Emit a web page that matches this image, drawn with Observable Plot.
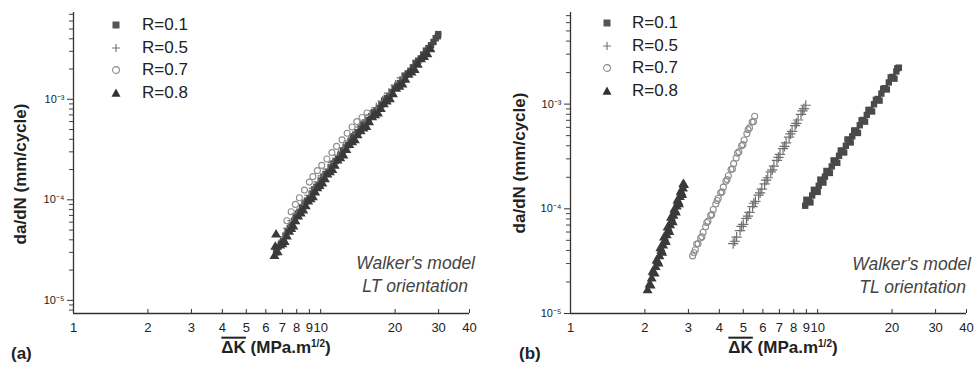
<!DOCTYPE html>
<html>
<head>
<meta charset="utf-8">
<script src="https://cdn.jsdelivr.net/npm/d3@7"></script>
<script src="https://cdn.jsdelivr.net/npm/@observablehq/plot@0.6"></script>
<style>
  body { margin: 0; background: #fff; }
  #fig { position: relative; width: 974px; height: 371px; overflow: hidden;
         font-family: "Liberation Sans", Arial, sans-serif; color: #222; }
  .panel { position: absolute; top: 0; }
  .ylab { position: absolute; font-weight: bold; font-size: 17px; white-space: nowrap;
          transform: translate(-50%, -50%) rotate(-90deg); }
  .xlab { position: absolute; font-weight: bold; font-size: 17px; white-space: nowrap;
          transform: translate(-50%, -50%); }
  .xlab .bar { text-decoration: overline; text-decoration-thickness: 2px; }
  .xlab sup { font-size: 10px; }
  .tag { position: absolute; font-weight: bold; font-size: 17px; transform: translate(0, -50%); }
  .note { position: absolute; font-style: italic; font-size: 17.5px; color: #444; white-space: nowrap;
          transform: translate(-100%, -50%); }
  .leg { position: absolute; font-size: 17px; transform: translate(0, -50%); white-space: nowrap; }
  .legsym { position: absolute; transform: translate(-50%, -50%); }
</style>
</head>
<body>
<div id="fig"></div>
<script>
// Fatigue crack growth rate da/dN versus effective ΔK (Walker's model), four load ratios.
const seriesNames = ["R=0.1", "R=0.5", "R=0.7", "R=0.8"];

// ---- LT orientation: [ΔK (MPa.m^1/2), da/dN (mm/cycle)] ----
const lt_R01 = [[6.6,3.0e-5],[6.9,3.65e-5],[7.2,4.4e-5],[7.5,5.25e-5],[7.8,6.2e-5],[8.1,7.3e-5],[8.4,8.3e-5],
  [8.8,9.8e-5],[9.2,1.15e-4],[9.6,1.34e-4],[10.0,1.55e-4],[10.5,1.81e-4],[11.0,2.1e-4],[11.5,2.43e-4],
  [12.0,2.81e-4],[12.6,3.32e-4],[13.2,3.85e-4],[13.8,4.45e-4],[14.5,5.15e-4],[15.2,5.9e-4],[16.0,6.8e-4],
  [16.8,7.8e-4],[17.6,8.85e-4],[18.5,1.03e-3],[19.4,1.18e-3],[20.4,1.37e-3],[21.4,1.57e-3],[22.5,1.81e-3],
  [23.6,2.08e-3],[24.8,2.42e-3],[26.0,2.79e-3],[27.3,3.23e-3],[28.6,3.72e-3],[29.2,4.05e-3],[29.8,4.24e-3],[29.9,4.45e-3],
  [6.75,3.4e-5],[7.05,3.9e-5],[7.35,4.9e-5],[7.65,5.6e-5],[7.95,6.9e-5],[8.25,7.6e-5],[8.6,9.2e-5],[9.0,1.04e-4],
  [9.4,1.27e-4],[9.8,1.4e-4],[10.25,1.7e-4],[10.75,1.9e-4],[11.25,2.3e-4],[11.75,2.55e-4],[12.3,3.1e-4],
  [12.9,3.5e-4],[13.5,4.2e-4],[14.15,4.7e-4],[14.85,5.6e-4],[15.6,6.2e-4],[16.4,7.4e-4],[17.2,8.2e-4],
  [18.05,9.7e-4],[18.95,1.08e-3],[19.9,1.3e-3],[20.9,1.45e-3],[21.95,1.72e-3],[23.05,1.92e-3],[24.2,2.3e-3],
  [25.4,2.55e-3],[26.65,3.05e-3],[27.95,3.45e-3]];
const lt_R05 = [[6.8,3.6e-5],[7.1,4.3e-5],[7.4,5.2e-5],[7.7,6.2e-5],[8.0,7.3e-5],[8.5,9.0e-5],[9.0,1.11e-4],
  [9.4,1.3e-4],[9.8,1.51e-4],[10.2,1.73e-4],[10.7,2.02e-4],[11.2,2.34e-4],[11.8,2.79e-4],[12.4,3.3e-4],
  [13.0,3.85e-4],[13.7,4.57e-4],[14.4,5.3e-4],[15.1,6.05e-4],[15.9,7.0e-4],[16.8,8.2e-4],[17.8,9.6e-4],
  [18.9,1.15e-3],[20.1,1.38e-3],[21.3,1.63e-3]];
const lt_R07 = [[7.3,6.2e-5],[7.6,7.6e-5],[7.9,9.0e-5],[8.2,1.05e-4],[8.6,1.25e-4],[9.0,1.5e-4],[9.3,1.7e-4],
  [9.7,1.95e-4],[10.1,2.2e-4],[10.6,2.55e-4],[11.1,2.95e-4],[11.6,3.4e-4],[12.2,3.95e-4],[12.8,4.6e-4],
  [13.4,5.3e-4],[14.0,6.0e-4],[14.7,6.6e-4],[15.4,7.3e-4]];
const lt_R08 = [[6.5,2.75e-5],[6.55,3.4e-5],[6.6,4.5e-5],[6.7,3.0e-5],[7.0,3.6e-5],[7.3,4.3e-5],[7.6,5.1e-5],
  [7.9,6.1e-5],[8.3,7.3e-5],[8.7,8.6e-5],[9.1,1.01e-4],[9.5,1.18e-4],[9.9,1.37e-4],[10.4,1.6e-4],
  [10.9,1.87e-4],[11.4,2.17e-4],[12.0,2.58e-4],[12.7,3.13e-4],[13.4,3.72e-4],[14.1,4.37e-4],[14.9,5.1e-4],
  [15.7,5.9e-4],[16.6,6.9e-4],[17.5,8.0e-4],[18.5,9.5e-4],[19.6,1.12e-3],[20.8,1.33e-3],[22.0,1.56e-3],
  [23.3,1.84e-3],[24.7,2.2e-3],[26.2,2.62e-3],[27.8,3.13e-3],
  [6.85,3.5e-5],[7.15,3.8e-5],[7.45,4.8e-5],[7.75,5.4e-5],[8.1,6.8e-5],[8.5,7.8e-5],[8.9,9.6e-5],[9.3,1.06e-4],
  [9.7,1.3e-4],[10.15,1.45e-4],[10.65,1.78e-4],[11.15,1.97e-4],[11.7,2.45e-4],[12.35,2.75e-4],[13.05,3.5e-4],
  [13.75,3.9e-4],[14.5,4.8e-4],[15.3,5.3e-4],[16.15,6.6e-4],[17.05,7.2e-4],[18.0,8.9e-4],[19.05,1.0e-3],
  [20.2,1.27e-3],[21.4,1.4e-3],[22.65,1.75e-3],[24.0,1.95e-3],[25.45,2.5e-3],[27.0,2.8e-3]];

// ---- TL orientation ----
const tl_R01 = [[8.9,1.07e-4],[9.2,1.2e-4],[9.5,1.34e-4],[9.8,1.5e-4],[10.1,1.66e-4],[10.4,1.84e-4],[10.7,2.03e-4],
  [11.0,2.24e-4],[11.4,2.54e-4],[11.8,2.86e-4],[12.2,3.21e-4],[12.6,3.59e-4],[13.0,4.0e-4],[13.4,4.45e-4],
  [13.8,4.93e-4],[14.3,5.57e-4],[14.8,6.28e-4],[15.3,7.06e-4],[15.8,7.89e-4],[16.3,8.79e-4],[16.9,9.97e-4],
  [17.5,1.12e-3],[18.1,1.26e-3],[18.7,1.42e-3],[19.4,1.61e-3],[20.1,1.82e-3],[20.8,2.05e-3],[21.3,2.23e-3],
  [9.0,1.22e-4],[9.35,1.15e-4],[9.65,1.52e-4],[10.0,1.45e-4],[10.25,1.9e-4],[10.55,1.78e-4],[10.85,2.3e-4],
  [11.2,2.2e-4],[11.6,2.9e-4],[12.0,2.75e-4],[12.4,3.6e-4],[12.8,3.45e-4],[13.2,4.6e-4],[13.6,4.3e-4],
  [14.05,5.6e-4],[14.55,5.3e-4],[15.05,7.0e-4],[15.55,6.8e-4],[16.05,8.8e-4],[16.6,8.5e-4],[17.2,1.1e-3],
  [17.8,1.08e-3],[18.4,1.4e-3],[19.05,1.38e-3],[19.75,1.8e-3],[20.45,1.75e-3],[21.0,2.2e-3]];
const tl_R05 = [[4.55,4.65e-5],[4.7,5.37e-5],[4.85,6.19e-5],[5.0,7.1e-5],[5.15,8.1e-5],[5.3,9.23e-5],[5.45,1.05e-4],
  [5.6,1.18e-4],[5.77,1.35e-4],[5.94,1.54e-4],[6.1,1.73e-4],[6.28,1.98e-4],[6.46,2.25e-4],[6.65,2.56e-4],
  [6.84,2.9e-4],[7.04,3.31e-4],[7.24,3.75e-4],[7.45,4.27e-4],[7.66,4.83e-4],[7.88,5.49e-4],[8.1,6.22e-4],
  [8.33,7.05e-4],[8.56,7.97e-4],[8.8,9.04e-4],[8.95,9.75e-4],
  [4.62,4.9e-5],[4.92,6.8e-5],[5.22,8.5e-5],[5.52,1.13e-4],[5.85,1.42e-4],[6.19,1.88e-4],[6.55,2.35e-4],
  [6.94,3.1e-4],[7.34,3.95e-4],[7.76,5.2e-4],[8.2,6.55e-4],[8.68,8.6e-4]];
const tl_R07 = [[3.12,3.55e-5],[3.2,4.06e-5],[3.28,4.63e-5],[3.36,5.26e-5],[3.44,5.97e-5],[3.52,6.74e-5],[3.6,7.6e-5],
  [3.69,8.65e-5],[3.78,9.84e-5],[3.87,1.11e-4],[3.96,1.26e-4],[4.05,1.42e-4],[4.15,1.61e-4],[4.25,1.83e-4],
  [4.35,2.07e-4],[4.46,2.37e-4],[4.57,2.7e-4],[4.68,3.06e-4],[4.8,3.5e-4],[4.92,4.0e-4],[5.04,4.54e-4],
  [5.17,5.2e-4],[5.3,5.93e-4],[5.43,6.75e-4],[5.56,7.65e-4],
  [3.16,3.8e-5],[3.24,4.6e-5],[3.4,5.4e-5],[3.56,7.4e-5],[3.73,8.8e-5],[3.92,1.2e-4],[4.1,1.45e-4],
  [4.3,1.9e-4],[4.52,2.4e-4],[4.74,3.4e-4],[4.98,4.1e-4],[5.23,5.7e-4],[5.5,6.8e-4]];
const tl_R08 = [[2.05,1.66e-5],[2.09,1.89e-5],[2.13,2.15e-5],[2.17,2.44e-5],[2.21,2.77e-5],[2.25,3.13e-5],[2.29,3.52e-5],
  [2.33,3.97e-5],[2.37,4.45e-5],[2.41,4.99e-5],[2.45,5.58e-5],[2.49,6.22e-5],[2.53,6.93e-5],[2.57,7.71e-5],
  [2.61,8.57e-5],[2.65,9.5e-5],[2.69,1.05e-4],[2.73,1.16e-4],[2.77,1.29e-4],[2.81,1.42e-4],[2.85,1.56e-4],[2.88,1.68e-4],
  [2.11,1.85e-5],[2.15,2.5e-5],[2.19,2.4e-5],[2.23,3.2e-5],[2.27,3.0e-5],[2.31,4.2e-5],[2.35,3.8e-5],[2.39,5.3e-5],
  [2.43,4.8e-5],[2.47,6.6e-5],[2.51,6.0e-5],[2.55,8.2e-5],[2.59,7.4e-5],[2.63,9.8e-5],[2.67,9.2e-5],[2.71,1.2e-4],
  [2.75,1.1e-4],[2.79,1.45e-4],[2.83,1.35e-4],[2.86,1.72e-4]];

// ---- axis ticks ----
const xTicks = [1, 2, 3, 4, 5, 6, 7, 8, 9, 10, 20, 30, 40];
const xTickLabels = ["1", "2", "3", "4", "5", "6", "7", "8", "9", "10", "20", "30", "40"];
const yMajor = [1e-5, 1e-4, 1e-3];
const yMajorLabels = ["10\u207B\u2075", "10\u207B\u2074", "10\u207B\u00B3"];
const yMinor = [8e-6, 9e-6, 2e-5, 3e-5, 4e-5, 5e-5, 6e-5, 7e-5, 8e-5, 9e-5,
                2e-4, 3e-4, 4e-4, 5e-4, 6e-4, 7e-4, 8e-4, 9e-4, 2e-3, 3e-3, 4e-3, 5e-3, 6e-3, 7e-3];

// ---- series styles ----
const styles = [
  {symbol: "square",   r: 3.6, fill: "#4a4a4a", stroke: "none"},
  {symbol: "plus",     r: 3.4, fill: "none",    stroke: "#707070", strokeWidth: 1.2},
  {symbol: "circle",   r: 3.0, fill: "none",    stroke: "#8e8e8e", strokeWidth: 1.1},
  {symbol: "triangle", r: 3.7, fill: "#3a3a3a", stroke: "none"}
];

const toRows = (pairs) => pairs.map(([k, v]) => ({k, v}));

function panel({series, yDomain, marginLeft, marginRight}) {
  const height = 371, marginTop = 12, marginBottom = 58;
  const plotH = height - marginTop - marginBottom;
  const minor = yMinor.filter(d => d >= yDomain[0] && d <= yDomain[1]);
  return Plot.plot({
    width: 487, height, marginLeft, marginRight, marginTop, marginBottom,
    x: {type: "log", domain: [1, 40], axis: null},
    y: {type: "log", domain: yDomain, axis: null},
    style: {fontFamily: "'Liberation Sans', Arial, sans-serif", fontSize: "13px", color: "#222",
            background: "transparent", overflow: "visible"},
    marks: [
      // x ticks point inward from the bottom axis; labels sit below it
      Plot.tickX(xTicks, {x: d => d, insetTop: plotH - 4, stroke: "#333", strokeWidth: 1}),
      Plot.text(xTicks, {x: d => d, text: (d, i) => xTickLabels[i], frameAnchor: "bottom",
                         lineAnchor: "top", dy: 9, fontSize: 13, fill: "#222"}),
      Plot.axisY({ticks: yMajor, tickFormat: d => yMajorLabels[yMajor.indexOf(d)], tickSize: 6,
                  tickPadding: 3, fontSize: 11, label: null, stroke: "#333"}),
      Plot.axisY({ticks: minor, tickFormat: () => "", tickSize: 4, label: null, stroke: "#444"}),
      Plot.ruleX([1], {stroke: "#333", strokeWidth: 1.3}),
      Plot.ruleY([yDomain[0]], {stroke: "#333", strokeWidth: 1.3}),
      ...series.map((s, i) => Plot.dot(toRows(s), {x: "k", y: "v", ...styles[i]}))
    ]
  });
}

const fig = document.getElementById("fig");

const left = panel({series: [lt_R01, lt_R05, lt_R07, lt_R08], yDomain: [7.4e-6, 7.3e-3],
                    marginLeft: 73, marginRight: 18});
left.classList.add("panel");
left.style.left = "0px";
fig.appendChild(left);

const right = panel({series: [tl_R01, tl_R05, tl_R07, tl_R08], yDomain: [1e-5, 7.5e-3],
                     marginLeft: 83, marginRight: 8});
right.classList.add("panel");
right.style.left = "487px";
fig.appendChild(right);

// labels, legends and notes
function addDiv(cls, html, x, y) {
  const d = document.createElement("div");
  d.className = cls;
  d.innerHTML = html;
  d.style.left = x + "px";
  d.style.top = y + "px";
  fig.appendChild(d);
  return d;
}
const xLabel = '<span class="bar">\u0394K</span> (MPa.m<sup>1/2</sup>)';
const yLabel = "da/dN (mm/cycle)";

addDiv("ylab", yLabel, 21, 174);
addDiv("ylab", yLabel, 520, 163);
addDiv("xlab", xLabel, 276, 348);
addDiv("xlab", xLabel, 783, 348);
addDiv("tag", "(a)", 11, 354);
addDiv("tag", "(b)", 519, 354);
addDiv("note", "Walker's model", 475, 263);
addDiv("note", "LT orientation", 468, 286);
addDiv("note", "Walker's model", 971, 264);
addDiv("note", "TL orientation", 966, 287);

const legSymbols = [
  '<rect x="2.5" y="2.5" width="7" height="7" fill="#555"/>',
  '<path d="M6 2V10M2 6H10" stroke="#777" stroke-width="1.2"/>',
  '<circle cx="6" cy="6" r="3.4" fill="none" stroke="#888" stroke-width="1.1"/>',
  '<path d="M6 1.5L10.5 9.8H1.5Z" fill="#333"/>'
];
function legend(symX, textX, rows) {
  seriesNames.forEach((name, i) => {
    addDiv("legsym", `<svg width="12" height="12" style="display:block">${legSymbols[i]}</svg>`, symX, rows[i]);
    addDiv("leg", name, textX, rows[i]);
  });
}
legend(116, 142, [25, 48, 70, 93]);
legend(607, 632, [23, 46, 68, 91]);
</script>
</body>
</html>
